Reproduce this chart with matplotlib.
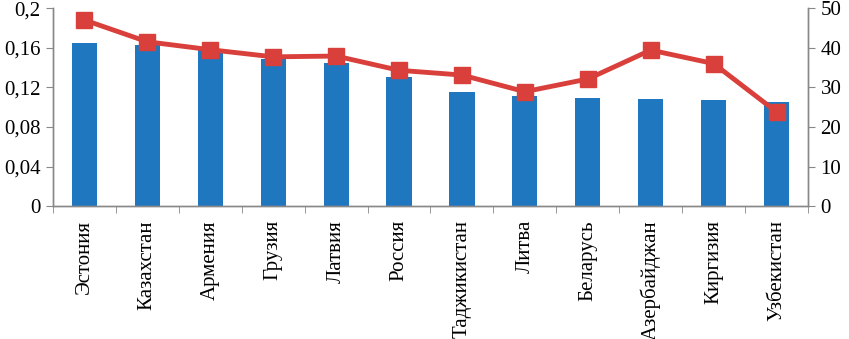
import matplotlib
matplotlib.use("Agg")
import matplotlib.pyplot as plt
import numpy as np

countries = ["Эстония", "Казахстан", "Армения", "Грузия", "Латвия", "Россия",
             "Таджикистан", "Литва", "Беларусь", "Азербайджан", "Киргизия", "Узбекистан"]
bar_values = [0.165, 0.163, 0.158, 0.149, 0.145, 0.130,
              0.115, 0.111, 0.109, 0.108, 0.107, 0.105]
line_values = [47.0, 41.5, 39.5, 37.7, 37.9, 34.3,
               33.1, 28.9, 32.1, 39.4, 36.0, 23.8]
left_ticks = [0, 0.04, 0.08, 0.12, 0.16, 0.2]
left_labels = ["0", "0,04", "0,08", "0,12", "0,16", "0,2"]
right_ticks = [0, 10, 20, 30, 40, 50]

plt.rcParams['font.family'] = ['Liberation Serif', 'DejaVu Serif']
plt.rcParams['font.size'] = 15

fig = plt.figure(figsize=(8.49, 3.39), dpi=100)
ax = fig.add_axes([0.0624, 0.392, 0.8893, 0.584])
x = np.arange(len(countries))

ax.bar(x, bar_values, width=0.4, color='#1F77C0', zorder=2)
ax.set_ylim(0, 0.2)
ax.set_xlim(-0.5, len(countries) - 0.5)
ax.set_yticks(left_ticks)
ax.set_yticklabels(left_labels)
ax.set_xticks(x)
ax.set_xticklabels(countries, rotation=90)
ax.set_xticks(np.arange(-0.5, len(countries)), minor=True)
ax.tick_params(axis='x', which='major', length=0, pad=10)
ax.tick_params(axis='x', which='minor', length=5, color='#888888', direction='out')
ax.tick_params(axis='y', length=5, color='#888888', pad=4)

ax2 = ax.twinx()
ax2.plot(x, line_values, color='#D9403B', linewidth=3.5, marker='s',
         markersize=11, zorder=3)
ax2.set_ylim(0, 50)
ax2.set_yticks(right_ticks)
ax2.tick_params(axis='y', length=5, color='#888888', pad=4)

for a in (ax, ax2):
    a.spines['top'].set_visible(False)
    for s in ('left', 'right', 'bottom'):
        a.spines[s].set_color('#888888')
        a.spines[s].set_linewidth(1)

plt.savefig("out.png", dpi=100)
